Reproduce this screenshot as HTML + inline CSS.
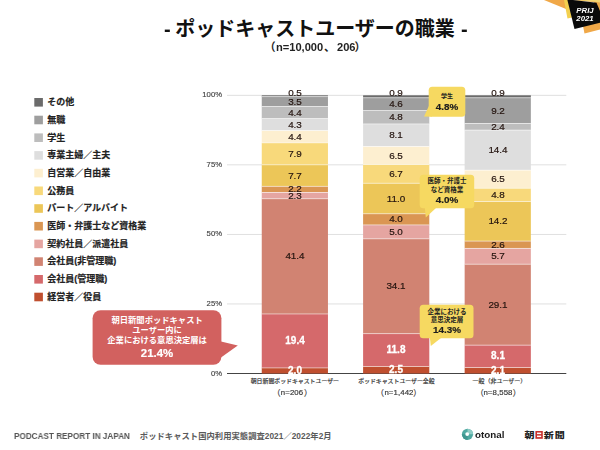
<!DOCTYPE html>
<html lang="ja"><head><meta charset="utf-8"><title>ポッドキャストユーザーの職業</title>
<style>
html,body{margin:0;padding:0;background:#fff}
#c{position:relative;width:600px;height:450px;overflow:hidden;background:#fff;font-family:"Liberation Sans",sans-serif}
#c svg{position:absolute;left:0;top:0}
#c div{position:absolute;white-space:nowrap;line-height:1;will-change:transform}
.ax{left:171.7px;width:50px;text-align:right;font-size:7.7px;line-height:10px!important;color:#444;-webkit-text-stroke:0.15px #444}
.v{width:40px;text-align:center;font-size:9.9px;line-height:12px!important;color:#24140f;-webkit-text-stroke:0.2px #24140f}
.v.w{color:#fff;font-weight:bold;font-size:10px;-webkit-text-stroke:0.3px #fff}
.td{top:17.5px;font-size:20px;font-weight:bold;color:#111;line-height:23px!important}
.st{top:41.2px;font-size:11.1px;font-weight:bold;color:#222;line-height:13px!important}
.cb{width:60px;text-align:center;font-size:9.9px;font-weight:bold;color:#1c1c1c;line-height:11px!important;-webkit-text-stroke:0.2px #1c1c1c}
.rb{width:100px;text-align:center;font-size:11.4px;font-weight:bold;color:#fff;line-height:14px!important;-webkit-text-stroke:0.2px #fff}
.nn{top:388.3px;width:60px;text-align:center;font-size:7.8px;color:#3a3a3a;line-height:10px!important;letter-spacing:0.1px;-webkit-text-stroke:0.2px #3a3a3a}
.ft{top:431.1px;font-size:8.6px;font-weight:bold;color:#555;line-height:10px!important;transform:scaleX(0.95);transform-origin:0 50%}
.ot{left:474.5px;top:428.7px;font-size:9.8px;font-weight:bold;color:#1a1a1a;line-height:11px!important}
.bd{left:569.6px;top:6.9px;width:30px;text-align:center;font-size:6.7px;font-weight:bold;font-style:italic;color:#fff;line-height:7.6px!important;transform:scaleX(1.17)}
</style></head>
<body><div id="c">
<svg width="600" height="450" viewBox="0 0 600 450">
<rect x="227" y="94.85" width="339.3" height="0.9" fill="#dcdcdc"/>
<rect x="227" y="164.4" width="339.3" height="0.9" fill="#dcdcdc"/>
<rect x="227" y="233.95" width="339.3" height="0.9" fill="#dcdcdc"/>
<rect x="227" y="303.5" width="339.3" height="0.9" fill="#dcdcdc"/>
<rect x="227" y="373" width="339.3" height="1" fill="#444"/>
<rect x="261.75" y="95.3" width="66.2" height="1.39" fill="#6b6b6b"/>
<rect x="261.75" y="96.69" width="66.2" height="9.74" fill="#9e9e9e"/>
<rect x="261.75" y="96.34" width="66.2" height="0.7" fill="#fff" opacity="0.75"/>
<rect x="261.75" y="106.43" width="66.2" height="12.24" fill="#bdbdbd"/>
<rect x="261.75" y="106.08" width="66.2" height="0.7" fill="#fff" opacity="0.75"/>
<rect x="261.75" y="118.67" width="66.2" height="11.96" fill="#dedede"/>
<rect x="261.75" y="118.32" width="66.2" height="0.7" fill="#fff" opacity="0.75"/>
<rect x="261.75" y="130.63" width="66.2" height="12.24" fill="#fdefd0"/>
<rect x="261.75" y="130.28" width="66.2" height="0.7" fill="#fff" opacity="0.75"/>
<rect x="261.75" y="142.87" width="66.2" height="21.98" fill="#f8d97b"/>
<rect x="261.75" y="142.52" width="66.2" height="0.7" fill="#fff" opacity="0.75"/>
<rect x="261.75" y="164.85" width="66.2" height="21.42" fill="#ecc658"/>
<rect x="261.75" y="164.5" width="66.2" height="0.7" fill="#fff" opacity="0.75"/>
<rect x="261.75" y="186.27" width="66.2" height="6.12" fill="#da9653"/>
<rect x="261.75" y="185.92" width="66.2" height="0.7" fill="#fff" opacity="0.75"/>
<rect x="261.75" y="192.39" width="66.2" height="6.4" fill="#e5a5a1"/>
<rect x="261.75" y="192.04" width="66.2" height="0.7" fill="#fff" opacity="0.75"/>
<rect x="261.75" y="198.79" width="66.2" height="115.17" fill="#d18372"/>
<rect x="261.75" y="198.44" width="66.2" height="0.7" fill="#fff" opacity="0.75"/>
<rect x="261.75" y="313.97" width="66.2" height="53.97" fill="#d5696b"/>
<rect x="261.75" y="313.62" width="66.2" height="0.7" fill="#fff" opacity="0.75"/>
<rect x="261.75" y="367.94" width="66.2" height="5.56" fill="#c04f2f"/>
<rect x="261.75" y="367.59" width="66.2" height="0.7" fill="#fff" opacity="0.75"/>
<rect x="363.1" y="95.3" width="66.2" height="2.5" fill="#6b6b6b"/>
<rect x="363.1" y="97.8" width="66.2" height="12.8" fill="#9e9e9e"/>
<rect x="363.1" y="97.45" width="66.2" height="0.7" fill="#fff" opacity="0.75"/>
<rect x="363.1" y="110.6" width="66.2" height="13.35" fill="#bdbdbd"/>
<rect x="363.1" y="110.25" width="66.2" height="0.7" fill="#fff" opacity="0.75"/>
<rect x="363.1" y="123.95" width="66.2" height="22.53" fill="#dedede"/>
<rect x="363.1" y="123.6" width="66.2" height="0.7" fill="#fff" opacity="0.75"/>
<rect x="363.1" y="146.49" width="66.2" height="18.08" fill="#fdefd0"/>
<rect x="363.1" y="146.14" width="66.2" height="0.7" fill="#fff" opacity="0.75"/>
<rect x="363.1" y="164.57" width="66.2" height="18.64" fill="#f8d97b"/>
<rect x="363.1" y="164.22" width="66.2" height="0.7" fill="#fff" opacity="0.75"/>
<rect x="363.1" y="183.21" width="66.2" height="30.6" fill="#ecc658"/>
<rect x="363.1" y="182.86" width="66.2" height="0.7" fill="#fff" opacity="0.75"/>
<rect x="363.1" y="213.81" width="66.2" height="11.13" fill="#da9653"/>
<rect x="363.1" y="213.46" width="66.2" height="0.7" fill="#fff" opacity="0.75"/>
<rect x="363.1" y="224.94" width="66.2" height="13.91" fill="#e5a5a1"/>
<rect x="363.1" y="224.59" width="66.2" height="0.7" fill="#fff" opacity="0.75"/>
<rect x="363.1" y="238.85" width="66.2" height="94.87" fill="#d18372"/>
<rect x="363.1" y="238.5" width="66.2" height="0.7" fill="#fff" opacity="0.75"/>
<rect x="363.1" y="333.72" width="66.2" height="32.83" fill="#d5696b"/>
<rect x="363.1" y="333.37" width="66.2" height="0.7" fill="#fff" opacity="0.75"/>
<rect x="363.1" y="366.54" width="66.2" height="6.96" fill="#c04f2f"/>
<rect x="363.1" y="366.19" width="66.2" height="0.7" fill="#fff" opacity="0.75"/>
<rect x="464.65" y="95.3" width="66.2" height="2.5" fill="#6b6b6b"/>
<rect x="464.65" y="97.8" width="66.2" height="25.59" fill="#9e9e9e"/>
<rect x="464.65" y="97.45" width="66.2" height="0.7" fill="#fff" opacity="0.75"/>
<rect x="464.65" y="123.4" width="66.2" height="6.68" fill="#bdbdbd"/>
<rect x="464.65" y="123.05" width="66.2" height="0.7" fill="#fff" opacity="0.75"/>
<rect x="464.65" y="130.07" width="66.2" height="40.06" fill="#dedede"/>
<rect x="464.65" y="129.72" width="66.2" height="0.7" fill="#fff" opacity="0.75"/>
<rect x="464.65" y="170.14" width="66.2" height="18.08" fill="#fdefd0"/>
<rect x="464.65" y="169.79" width="66.2" height="0.7" fill="#fff" opacity="0.75"/>
<rect x="464.65" y="188.22" width="66.2" height="13.35" fill="#f8d97b"/>
<rect x="464.65" y="187.87" width="66.2" height="0.7" fill="#fff" opacity="0.75"/>
<rect x="464.65" y="201.57" width="66.2" height="39.5" fill="#ecc658"/>
<rect x="464.65" y="201.22" width="66.2" height="0.7" fill="#fff" opacity="0.75"/>
<rect x="464.65" y="241.08" width="66.2" height="7.23" fill="#da9653"/>
<rect x="464.65" y="240.73" width="66.2" height="0.7" fill="#fff" opacity="0.75"/>
<rect x="464.65" y="248.31" width="66.2" height="15.86" fill="#e5a5a1"/>
<rect x="464.65" y="247.96" width="66.2" height="0.7" fill="#fff" opacity="0.75"/>
<rect x="464.65" y="264.17" width="66.2" height="80.96" fill="#d18372"/>
<rect x="464.65" y="263.82" width="66.2" height="0.7" fill="#fff" opacity="0.75"/>
<rect x="464.65" y="345.12" width="66.2" height="22.53" fill="#d5696b"/>
<rect x="464.65" y="344.77" width="66.2" height="0.7" fill="#fff" opacity="0.75"/>
<rect x="464.65" y="367.66" width="66.2" height="5.84" fill="#c04f2f"/>
<rect x="464.65" y="367.31" width="66.2" height="0.7" fill="#fff" opacity="0.75"/>
<rect x="34.3" y="98" width="8.6" height="8.6" fill="#6b6b6b"/>
<rect x="34.3" y="115.7" width="8.6" height="8.6" fill="#9e9e9e"/>
<rect x="34.3" y="133.4" width="8.6" height="8.6" fill="#bdbdbd"/>
<rect x="34.3" y="151.1" width="8.6" height="8.6" fill="#dedede"/>
<rect x="34.3" y="168.8" width="8.6" height="8.6" fill="#fdefd0"/>
<rect x="34.3" y="186.5" width="8.6" height="8.6" fill="#f8d97b"/>
<rect x="34.3" y="204.2" width="8.6" height="8.6" fill="#ecc658"/>
<rect x="34.3" y="221.9" width="8.6" height="8.6" fill="#da9653"/>
<rect x="34.3" y="239.6" width="8.6" height="8.6" fill="#e5a5a1"/>
<rect x="34.3" y="257.3" width="8.6" height="8.6" fill="#d18372"/>
<rect x="34.3" y="275" width="8.6" height="8.6" fill="#d5696b"/>
<rect x="34.3" y="292.7" width="8.6" height="8.6" fill="#c04f2f"/>
<rect x="428.7" y="86.7" width="36.6" height="30" rx="3.5" fill="#f6d961"/>
<polygon points="428.9,106 424,116.4 432,116.7" fill="#f6d961"/>
<rect x="419.7" y="174.7" width="54.5" height="33.6" rx="3.5" fill="#f6d961"/>
<polygon points="424.8,207 425.8,217.5 436,208" fill="#f6d961"/>
<rect x="419.7" y="304.7" width="53.8" height="33.6" rx="3.5" fill="#f6d961"/>
<polygon points="429.8,337 430.8,346 441,338" fill="#f6d961"/>
<rect x="92.6" y="310.2" width="128.8" height="54.6" rx="8" fill="#d2615f"/>
<polygon points="221,341.5 237.8,345.4 221,357.5" fill="#d2615f"/>
<circle cx="467.5" cy="434.3" r="5.6" fill="#4fa9a1"/>
<path d="M467.5,434.3 L467.5,428.7 A5.6,5.6 0 0 1 473.1,434.3 Z" fill="#8fcdc6"/>
<path d="M467.5,434.3 L461.9,434.3 A5.6,5.6 0 0 0 467.5,439.9 Z" fill="#3f968f"/>
<circle cx="467.2" cy="434.1" r="1.9" fill="#fff"/>
<rect x="535.4" y="431" width="7.4" height="7.8" fill="#c9302c"/>
<rect x="537" y="432.6" width="4.2" height="1.5" fill="#fff"/>
<rect x="537" y="435.6" width="4.2" height="1.5" fill="#fff"/>
<polygon points="544,0 570,0 566,9" fill="#f0a848"/>
<polygon points="564,0 568,0 572,17.5 567.5,18.5" fill="#f3d04f"/>
<polygon points="583,26 600,22 600,29.5 584.5,33.5" fill="#f0a848"/>
<polygon points="572,0 600,0 600,22 594,2" fill="#e8a548"/>
<polygon points="574,0 600,0 600,2.4 590,1.2" fill="#f3d470"/>
<polygon points="567.4,0 573,0 596.5,2.7 600,11 600,22.8 574.5,29" fill="#0a0a0a"/>
</svg>
<svg width="600" height="450" viewBox="0 0 600 450" style="font-family:'Liberation Sans','Noto Sans CJK JP',sans-serif">
<g font-size="9" font-weight="bold" fill="#222" stroke="#222" stroke-width="0.18">
<text x="47.2" y="105.1">その他</text>
<text x="47.2" y="122.8">無職</text>
<text x="47.2" y="140.5">学生</text>
<text x="47.2" y="158.2">専業主婦／主夫</text>
<text x="47.2" y="175.9">自営業／自由業</text>
<text x="47.2" y="193.6">公務員</text>
<text x="47.2" y="211.3">パート／アルバイト</text>
<text x="47.2" y="229">医師・弁護士など資格業</text>
<text x="47.2" y="246.7">契約社員／派遣社員</text>
<text x="47.2" y="264.4">会社員(非管理職)</text>
<text x="47.2" y="282.1">会社員(管理職)</text>
<text x="47.2" y="299.8">経営者／役員</text>
</g>
<text x="315" y="35.8" text-anchor="middle" font-size="20" font-weight="bold" fill="#111">ポッドキャストユーザーの職業</text>
<g font-size="11.1" font-weight="bold" fill="#222">
<text x="275.6" y="51.4" text-anchor="end">（</text>
<text x="323.9" y="51.4">、</text>
<text x="354.5" y="51.4">）</text>
</g>
<g font-weight="bold" fill="#222" text-anchor="middle">
<text x="447" y="98" font-size="6">学生</text>
<text x="447" y="183.2" font-size="6.5">医師・弁護士</text>
<text x="447" y="191.9" font-size="6.5">など資格業</text>
<text x="447" y="313.7" font-size="6.5">企業における</text>
<text x="447" y="322.4" font-size="6.5">意思決定層</text>
</g>
<g font-size="8.3" font-weight="bold" fill="#fff" text-anchor="middle">
<text x="157.1" y="323.4">朝日新聞ポッドキャスト</text>
<text x="157.1" y="333">ユーザー内に</text>
<text x="157.1" y="342.6">企業における意思決定層は</text>
</g>
<g fill="#333" stroke="#333" stroke-width="0.18">
<text x="294.85" y="382.6" font-size="5.9" text-anchor="middle">朝日新聞ポッドキャストユーザー</text>
<text x="396.4" y="382.6" font-size="5.9" text-anchor="middle">ポッドキャストユーザー全般</text>
<text x="472.4" y="382.6" font-size="6">一般（非ユーザー）</text>
</g>
<g font-size="8" fill="#3a3a3a" stroke="#3a3a3a" stroke-width="0.18">
<text x="280.6" y="396.2" text-anchor="end">（</text>
<text x="303.9" y="396.2">）</text>
<text x="384" y="396.2" text-anchor="end">（</text>
<text x="413.3" y="396.2">）</text>
<text x="483.8" y="396.2" text-anchor="end">（</text>
<text x="512.7" y="396.2">）</text>
</g>
<text x="139.8" y="439.36" font-size="8.3" font-weight="bold" fill="#5a5a5a" textLength="191.8">ポッドキャスト国内利用実態調査2021／2022年2月</text>
<g font-size="8.1" font-weight="900" fill="#222">
<text transform="translate(524.6 438) scale(1.24 1)">朝</text>
<text transform="translate(543.8 438) scale(1.24 1)">新</text>
<text transform="translate(554.8 438) scale(1.24 1)">聞</text>
</g>
</svg>
<div class="ax" style="top:90.3px">100%</div>
<div class="ax" style="top:159.85px">75%</div>
<div class="ax" style="top:229.4px">50%</div>
<div class="ax" style="top:298.95px">25%</div>
<div class="ax" style="top:368.5px">0%</div>
<div class="v" style="left:274.85px;top:86.7px">0.5</div>
<div class="v" style="left:274.85px;top:95.56px">3.5</div>
<div class="v" style="left:274.85px;top:106.55px">4.4</div>
<div class="v" style="left:274.85px;top:118.65px">4.3</div>
<div class="v" style="left:274.85px;top:130.75px">4.4</div>
<div class="v" style="left:274.85px;top:147.86px">7.9</div>
<div class="v" style="left:274.85px;top:169.56px">7.7</div>
<div class="v" style="left:274.85px;top:183.33px">2.2</div>
<div class="v" style="left:274.85px;top:189.59px">2.3</div>
<div class="v" style="left:274.85px;top:250.38px">41.4</div>
<div class="v w" style="left:274.85px;top:334.95px">19.4</div>
<div class="v w" style="left:274.85px;top:364.72px">2.0</div>
<div class="v" style="left:376.2px;top:87.25px">0.9</div>
<div class="v" style="left:376.2px;top:98.2px">4.6</div>
<div class="v" style="left:376.2px;top:111.28px">4.8</div>
<div class="v" style="left:376.2px;top:129.22px">8.1</div>
<div class="v" style="left:376.2px;top:149.53px">6.5</div>
<div class="v" style="left:376.2px;top:167.89px">6.7</div>
<div class="v" style="left:376.2px;top:192.51px">11.0</div>
<div class="v" style="left:376.2px;top:213.38px">4.0</div>
<div class="v" style="left:376.2px;top:225.9px">5.0</div>
<div class="v" style="left:376.2px;top:280.28px">34.1</div>
<div class="v w" style="left:376.2px;top:344.13px">11.8</div>
<div class="v w" style="left:376.2px;top:364.02px">2.5</div>
<div class="v" style="left:477.75px;top:87.25px">0.9</div>
<div class="v" style="left:477.75px;top:104.6px">9.2</div>
<div class="v" style="left:477.75px;top:120.74px">2.4</div>
<div class="v" style="left:477.75px;top:144.11px">14.4</div>
<div class="v" style="left:477.75px;top:173.18px">6.5</div>
<div class="v" style="left:477.75px;top:188.9px">4.8</div>
<div class="v" style="left:477.75px;top:215.32px">14.2</div>
<div class="v" style="left:477.75px;top:238.69px">2.6</div>
<div class="v" style="left:477.75px;top:250.24px">5.7</div>
<div class="v" style="left:477.75px;top:298.65px">29.1</div>
<div class="v w" style="left:477.75px;top:350.39px">8.1</div>
<div class="v w" style="left:477.75px;top:364.58px">2.1</div>
<div class="td" style="left:163.9px">-</div>
<div class="td" style="left:461.4px">-</div>
<div class="st" style="left:276px">n=10,000</div>
<div class="st" style="left:336.6px">206</div>
<div class="cb" style="left:416.9px;top:100.8px">4.8%</div>
<div class="cb" style="left:417px;top:193.7px">4.0%</div>
<div class="cb" style="left:417px;top:324px">14.3%</div>
<div class="rb" style="left:107.1px;top:345.5px">21.4%</div>
<div class="nn" style="left:262.3px">n=206</div>
<div class="nn" style="left:368.6px">n=1,442</div>
<div class="nn" style="left:468.2px">n=8,558</div>
<div class="ft" style="left:14px">PODCAST REPORT IN JAPAN</div>
<div class="ot">otonal</div>
<div class="bd">PRIJ<br>2021</div>
</div></body></html>
